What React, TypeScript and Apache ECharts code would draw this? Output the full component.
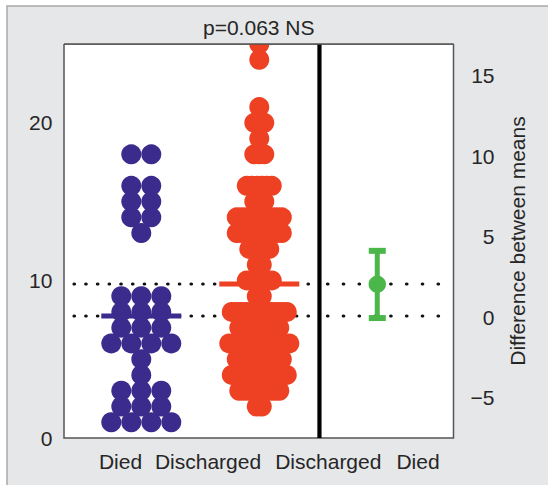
import React, { useEffect, useRef } from 'react';
import * as echarts from 'echarts';

// ---------- data ----------
const groupLabels = ['Died', 'Discharged', 'Discharged', 'Died'];
const titleText = 'p=0.063 NS';
const rightAxisName = 'Difference between means';
const leftTicks = [0, 10, 20];
const rightTicks = [-5, 0, 5, 10, 15];

// value levels and how many patients sit on each level
const diedLevels = [18, 16, 15, 14, 13, 9, 8, 7, 6, 5, 4, 3, 2, 1];
const diedCounts = [2, 2, 2, 2, 1, 3, 3, 3, 4, 1, 1, 3, 3, 4];

const dischargedLevels = [25, 24, 21, 20, 19, 18, 16, 15, 14, 13, 12, 11, 10, 9, 8, 7, 6, 5, 4, 3, 2];
const dischargedCounts = [1, 1, 1, 3, 1, 3, 6, 3, 10, 10, 5, 2, 6, 2, 12, 9, 13, 10, 12, 9, 2];

const groupMeans = [7.74, 9.77]; // died, discharged
const meanDifference = 2.05;
const differenceCI = [-0.05, 4.12];

// ---------- layout / style ----------
const X_MIN = -0.655;
const X_MAX = 2.646;
const COL_DIED = 0;
const COL_DISCHARGED = 1;
const COL_DIFF = 2;
const DIVIDER_X = 1.51;
const DIED_STEP = 0.1695;
const DISCHARGED_STEP = 0.0424;
const BLUE = '#3b2b8d';
const RED = '#ee4124';
const GREEN = '#4bb649';
const TEXT = '#262626';
const PANEL = '#e6e7e8';
const FONT = 'Liberation Sans';
const labelX = [120.5, 208, 328.3, 418];
const GRID_L = 64;
const GRID_T = 44;
const GRID_W = 389.5;
const GRID_H = 394;

function swarm(levels: number[], counts: number[], center: number, step: number) {
  const pts: number[][] = [];
  levels.forEach((v, i) => {
    const n = counts[i];
    for (let k = 0; k < n; k++) pts.push([center + (k - (n - 1) / 2) * step, v]);
  });
  return pts;
}

export default function App() {
  const ref = useRef<HTMLDivElement>(null);
  useEffect(() => {
    if (!ref.current) return;
    const chart = echarts.init(ref.current, null, { renderer: 'svg' });
    const option: any = {
      animation: false,
      textStyle: { fontFamily: FONT },
      grid: {
        left: GRID_L,
        top: GRID_T,
        width: GRID_W,
        height: GRID_H,
        show: true,
        backgroundColor: '#ffffff',
        borderColor: '#555555',
        borderWidth: 1.5,
        z: 1,
      },
      xAxis: { type: 'value', min: X_MIN, max: X_MAX, show: false },
      yAxis: [
        {
          type: 'value',
          min: 0,
          max: 25,
          position: 'left',
          axisLine: { show: false },
          axisTick: { show: false },
          splitLine: { show: false },
          axisLabel: {
            customValues: leftTicks,
            fontSize: 21,
            color: TEXT,
            margin: 11.6,
            fontFamily: FONT,
          },
        },
        {
          type: 'value',
          min: -7.49,
          max: 16.95,
          position: 'right',
          axisLine: { show: false },
          axisTick: { show: false },
          splitLine: { show: false },
          axisLabel: {
            customValues: rightTicks,
            fontSize: 21,
            color: TEXT,
            align: 'right',
            margin: 41,
            fontFamily: FONT,
            formatter: (v: number) => (v < 0 ? '\u2212' + Math.abs(v) : String(v)),
          },
          name: rightAxisName,
          nameLocation: 'middle',
          nameGap: 53,
          nameTextStyle: { fontSize: 21, color: TEXT, fontFamily: FONT },
        },
      ],
      graphic: [
        {
          type: 'rect',
          z: -100,
          shape: { x: 7, y: 6, width: 600, height: 600 },
          style: { fill: PANEL, stroke: '#a9a9a9', lineWidth: 1.5 },
          silent: true,
        },
        {
          // hides the part of the dots that runs above the plot frame
          type: 'rect',
          z: 50,
          shape: { x: GRID_L - 1, y: 8, width: GRID_W + 2, height: GRID_T - 8 },
          style: { fill: PANEL },
          silent: true,
        },
        {
          type: 'line',
          z: 51,
          shape: { x1: GRID_L, y1: GRID_T, x2: GRID_L + GRID_W, y2: GRID_T },
          style: { stroke: '#555555', lineWidth: 1.5 },
          silent: true,
        },
        {
          type: 'text',
          z: 52,
          x: 258.75,
          y: 27,
          style: {
            text: titleText,
            fontSize: 21,
            fontFamily: FONT,
            fill: TEXT,
            align: 'center',
            verticalAlign: 'middle',
          },
        },
        ...groupLabels.map((t, i) => ({
          type: 'text',
          z: 52,
          x: labelX[i],
          y: 461,
          style: {
            text: t,
            fontSize: 21,
            fontFamily: FONT,
            fill: TEXT,
            align: 'center',
            verticalAlign: 'middle',
          },
        })),
      ],
      series: [
        {
          type: 'custom',
          name: 'reference lines',
          silent: true,
          z: 2,
          data: groupMeans.map((m) => [m]),
          renderItem: (params: any, api: any) => {
            const m = api.value(0);
            const a = api.coord([X_MIN, m]);
            const b = api.coord([DIVIDER_X, m]);
            const c = api.coord([X_MAX, m]);
            return {
              type: 'group',
              children: [
                {
                  type: 'line',
                  shape: { x1: a[0] + 10, y1: a[1], x2: b[0], y2: b[1] },
                  style: { stroke: '#111', lineWidth: 3.2, lineDash: [0.5, 11.2], lineCap: 'round' },
                },
                {
                  type: 'line',
                  shape: { x1: b[0] + 8, y1: b[1], x2: c[0] - 2, y2: c[1] },
                  style: { stroke: '#111', lineWidth: 3.2, lineDash: [0.5, 15.3], lineCap: 'round' },
                },
              ],
            };
          },
        },
        {
          type: 'scatter',
          name: 'Died',
          symbol: 'circle',
          symbolSize: 20,
          z: 3,
          itemStyle: { color: BLUE, opacity: 1 },
          data: swarm(diedLevels, diedCounts, COL_DIED, DIED_STEP),
        },
        {
          type: 'scatter',
          name: 'Discharged',
          symbol: 'circle',
          symbolSize: 20,
          z: 3,
          itemStyle: { color: RED, opacity: 1 },
          data: swarm(dischargedLevels, dischargedCounts, COL_DISCHARGED, DISCHARGED_STEP),
        },
        {
          type: 'custom',
          name: 'means',
          silent: true,
          z: 4,
          data: [
            [COL_DIED, groupMeans[0], 0],
            [COL_DISCHARGED, groupMeans[1], 1],
          ],
          renderItem: (params: any, api: any) => {
            const p = api.coord([api.value(0), api.value(1)]);
            return {
              type: 'rect',
              shape: { x: p[0] - 40, y: p[1] - 2.4, width: 80, height: 4.8 },
              style: { fill: api.value(2) === 0 ? BLUE : RED },
            };
          },
        },
        {
          type: 'custom',
          name: 'divider',
          silent: true,
          z: 5,
          data: [[DIVIDER_X]],
          renderItem: (params: any, api: any) => {
            const top = api.coord([api.value(0), 25]);
            const bot = api.coord([api.value(0), 0]);
            return {
              type: 'line',
              shape: { x1: top[0], y1: top[1], x2: bot[0], y2: bot[1] },
              style: { stroke: '#000', lineWidth: 4.2 },
            };
          },
        },
        {
          type: 'custom',
          name: 'difference',
          yAxisIndex: 1,
          silent: true,
          z: 6,
          data: [[COL_DIFF, meanDifference, differenceCI[0], differenceCI[1]]],
          renderItem: (params: any, api: any) => {
            const x = api.value(0);
            const mid = api.coord([x, api.value(1)]);
            const lo = api.coord([x, api.value(2)]);
            const hi = api.coord([x, api.value(3)]);
            return {
              type: 'group',
              children: [
                {
                  type: 'line',
                  shape: { x1: lo[0], y1: lo[1], x2: hi[0], y2: hi[1] },
                  style: { stroke: GREEN, lineWidth: 5 },
                },
                {
                  type: 'rect',
                  shape: { x: hi[0] - 8.5, y: hi[1] - 3, width: 17, height: 6 },
                  style: { fill: GREEN },
                },
                {
                  type: 'rect',
                  shape: { x: lo[0] - 8.5, y: lo[1] - 3, width: 17, height: 6 },
                  style: { fill: GREEN },
                },
                {
                  type: 'circle',
                  shape: { cx: mid[0], cy: mid[1], r: 8.7 },
                  style: { fill: GREEN },
                },
              ],
            };
          },
        },
      ],
    };
    chart.setOption(option);
    return () => chart.dispose();
  }, []);
  return (
    <div
      ref={ref}
      style={{ position: 'fixed', left: 0, top: 0, width: 548, height: 485, background: '#ffffff' }}
    />
  );
}
